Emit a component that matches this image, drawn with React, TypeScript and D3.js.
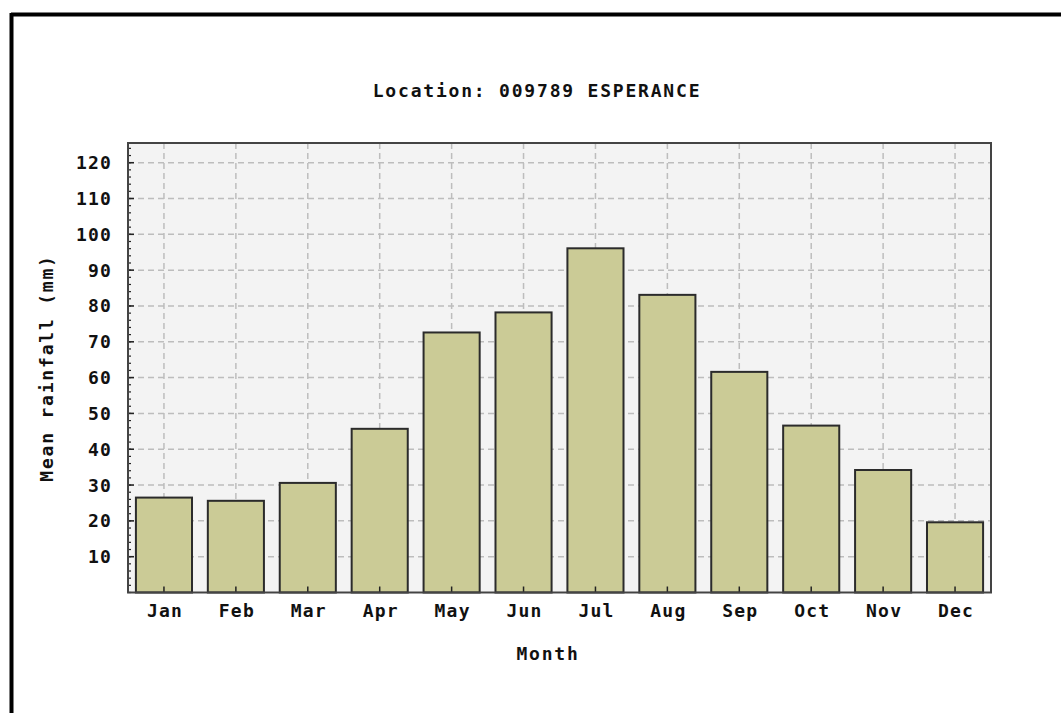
import React from "react";
import * as d3 from "d3";

const months = ["Jan", "Feb", "Mar", "Apr", "May", "Jun", "Jul", "Aug", "Sep", "Oct", "Nov", "Dec"];
const rainfall = [26.5, 25.6, 30.6, 45.7, 72.6, 78.2, 96.1, 83.1, 61.6, 46.6, 34.2, 19.6];
const yTicks = [10, 20, 30, 40, 50, 60, 70, 80, 90, 100, 110, 120];
const titleText = "Location: 009789 ESPERANCE";
const yTitle = "Mean rainfall (mm)";
const xTitle = "Month";

const W = 1061;
const H = 713;
const plot = { left: 128, top: 143, right: 991, bottom: 592.5 };
const FONT = "'DejaVu Sans Mono', 'Liberation Mono', monospace";

export default function App() {
  const x = d3.scaleBand<string>().domain(months).range([plot.left, plot.right]).paddingInner(0.22).paddingOuter(0.11);
  const xc = d3.scaleBand<string>().domain(months).range([plot.left, plot.right]);
  const y = d3.scaleLinear().domain([0, 125.5]).range([plot.bottom, plot.top]);
  const minor = d3.range(0, 126, 2);

  const textStyle = { fontFamily: FONT, fontWeight: 700, fill: "#111", letterSpacing: "1.8px" } as const;

  return (
    <svg width={W} height={H} style={{ position: "absolute", left: 0, top: 0, background: "#fff" }}>
      {/* outer frame */}
      <line x1={11} y1={14.5} x2={W} y2={14.5} stroke="#000" strokeWidth={4} />
      <line x1={11.5} y1={13} x2={11.5} y2={H} stroke="#000" strokeWidth={4} />

      <text x={537} y={97} textAnchor="middle" fontSize={18} style={textStyle}>{titleText}</text>

      {/* plot background */}
      <rect x={plot.left} y={plot.top} width={plot.right - plot.left} height={plot.bottom - plot.top} fill="#f3f3f3" />

      {/* grid */}
      {yTicks.map((t) => (
        <line key={"gy" + t} x1={plot.left} x2={plot.right} y1={y(t)} y2={y(t)} stroke="#bdbdbd" strokeWidth={1.5} strokeDasharray="6,4" />
      ))}
      {months.map((m) => {
        const cx = (xc(m) as number) + xc.bandwidth() / 2;
        return <line key={"gx" + m} x1={cx} x2={cx} y1={plot.top} y2={plot.bottom} stroke="#bdbdbd" strokeWidth={1.5} strokeDasharray="6,4" />;
      })}

      {/* bars */}
      {months.map((m, i) => (
        <rect key={"b" + m} x={x(m)} y={y(rainfall[i])} width={x.bandwidth()} height={plot.bottom - y(rainfall[i])}
          fill="#cbcb96" stroke="#2b2b2b" strokeWidth={2} />
      ))}

      {/* minor y ticks */}
      {minor.map((t) => (
        <line key={"mt" + t} x1={plot.left} x2={plot.left + 3} y1={y(t)} y2={y(t)} stroke="#222" strokeWidth={1.2} />
      ))}
      {yTicks.map((t) => (
        <line key={"Mt" + t} x1={plot.left} x2={plot.left + 6} y1={y(t)} y2={y(t)} stroke="#222" strokeWidth={1.5} />
      ))}
      {months.map((m) => {
        const cx = (xc(m) as number) + xc.bandwidth() / 2;
        return <line key={"xt" + m} x1={cx} x2={cx} y1={plot.bottom} y2={plot.bottom - 6} stroke="#222" strokeWidth={1.5} />;
      })}

      {/* plot frame */}
      <rect x={plot.left} y={plot.top} width={plot.right - plot.left} height={plot.bottom - plot.top} fill="none" stroke="#444" strokeWidth={2} />

      {/* y labels */}
      {yTicks.map((t) => (
        <text key={"yl" + t} x={112} y={y(t) + 6.5} textAnchor="end" fontSize={18} style={{ ...textStyle, letterSpacing: "1.2px" }}>{t}</text>
      ))}
      {/* x labels */}
      {months.map((m) => {
        const cx = (xc(m) as number) + xc.bandwidth() / 2;
        return <text key={"xl" + m} x={cx + 1} y={617} textAnchor="middle" fontSize={18} style={{ ...textStyle, letterSpacing: "1.2px" }}>{m}</text>;
      })}

      <text x={548} y={660} textAnchor="middle" fontSize={18} style={textStyle}>{xTitle}</text>
      <text transform={`translate(53,368) rotate(-90)`} textAnchor="middle" fontSize={18} style={textStyle}>{yTitle}</text>
    </svg>
  );
}
